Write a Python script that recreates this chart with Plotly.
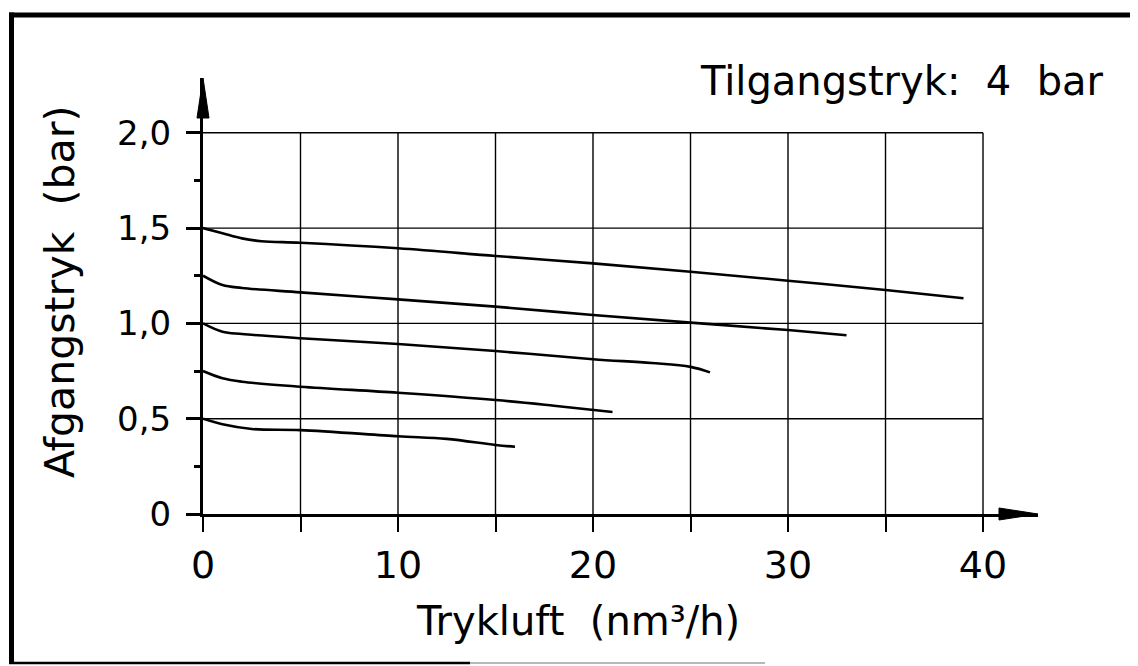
import plotly.graph_objects as go

# ---------------- data ----------------
flow_a = [0, 1, 2.5, 5, 10, 12.5, 15, 16]
press_a = [0.50, 0.471, 0.446, 0.440, 0.408, 0.394, 0.362, 0.353]

flow_b = [0, 1, 2, 5, 10, 15, 18, 21]
press_b = [0.75, 0.712, 0.694, 0.668, 0.636, 0.598, 0.568, 0.535]

flow_c = [0, 1, 2, 5, 10, 15, 20, 23, 25, 26]
press_c = [1.0, 0.956, 0.944, 0.922, 0.892, 0.855, 0.812, 0.792, 0.772, 0.743]

flow_d = [0, 1, 2, 5, 10, 15, 20, 25, 30, 33]
press_d = [1.25, 1.201, 1.186, 1.163, 1.126, 1.088, 1.044, 1.004, 0.965, 0.938]

flow_e = [0, 1, 2, 3, 5, 10, 15, 20, 25, 30, 35, 39]
press_e = [1.5, 1.473, 1.446, 1.431, 1.423, 1.394, 1.354, 1.315, 1.271, 1.224, 1.175, 1.132]

x_tick_vals = [0, 5, 10, 15, 20, 25, 30, 35, 40]
x_tick_text = ["0", "", "10", "", "20", "", "30", "", "40"]
y_tick_vals = [0, 0.5, 1.0, 1.5, 2.0]
y_tick_text = ["0", "0,5", "1,0", "1,5", "2,0"]
y_minor_vals = [0.25, 0.75, 1.25, 1.75]

title_text = "Tilgangstryk:\u00a0 4\u00a0 bar"
x_title = "Trykluft\u00a0 (nm³/h)"
y_title = "Afgangstryk\u00a0 (bar)"

# ---------------- layout geometry ----------------
OFF = 8                      # default page body margin
W, H = 1138 - OFF, 666 - OFF
ML, MR, MT, MB = 195, 100, 70, 152
X_RANGE = [0, 42.82]
Y_RANGE = [0, 2.2875]
PW = W - ML - MR
PH = H - MT - MB
FONT = "DejaVu Sans"


def px_x(page_px):
    return (page_px - OFF - ML) / PW


def px_y(page_py):
    return (H - MB - (page_py - OFF)) / PH


def dx_paper(x):
    return (x - X_RANGE[0]) / (X_RANGE[1] - X_RANGE[0])


def dy_paper(y):
    return (y - Y_RANGE[0]) / (Y_RANGE[1] - Y_RANGE[0])


fig = go.Figure()

for fx, py in [(flow_a, press_a), (flow_b, press_b), (flow_c, press_c),
               (flow_d, press_d), (flow_e, press_e)]:
    fig.add_trace(go.Scatter(x=fx, y=py, mode="lines",
                             line=dict(color="black", width=2.6, shape="spline", smoothing=1.0),
                             showlegend=False, hoverinfo="skip"))

shapes = []
# grid lines (only inside 0..40 x 0..2)
for v in y_tick_vals[1:]:
    shapes.append(dict(type="line", xref="x", yref="y", x0=0, x1=x_tick_vals[-1], y0=v, y1=v,
                       line=dict(color="black", width=1.4)))
for v in x_tick_vals[1:]:
    shapes.append(dict(type="line", xref="x", yref="y", x0=v, x1=v, y0=0, y1=y_tick_vals[-1],
                       line=dict(color="black", width=1.4)))

# arrow heads
hw_x = 6 / PW
hw_y = 6 / PH
xa_tip = dx_paper(X_RANGE[1])
xa_base = xa_tip - 39 / PW
shapes.append(dict(type="path", xref="paper", yref="paper",
                   path=f"M {xa_tip} 0 L {xa_base} {hw_y} L {xa_base} {-hw_y} Z",
                   fillcolor="black", line=dict(color="black", width=1)))
ya_tip = dy_paper(Y_RANGE[1])
ya_base = ya_tip - 40 / PH
shapes.append(dict(type="path", xref="paper", yref="paper",
                   path=f"M 0 {ya_tip} L {hw_x} {ya_base} L {-hw_x} {ya_base} Z",
                   fillcolor="black", line=dict(color="black", width=1)))

# frame (top, left, bottom)
shapes.append(dict(type="line", xref="paper", yref="paper", x0=px_x(9), x1=px_x(1150),
                   y0=px_y(15), y1=px_y(15), line=dict(color="black", width=5)))
shapes.append(dict(type="line", xref="paper", yref="paper", x0=px_x(11.5), x1=px_x(11.5),
                   y0=px_y(12.5), y1=px_y(664), line=dict(color="black", width=5)))
shapes.append(dict(type="line", xref="paper", yref="paper", x0=px_x(9), x1=px_x(470),
                   y0=px_y(663), y1=px_y(663), line=dict(color="black", width=2.5)))
shapes.append(dict(type="line", xref="paper", yref="paper", x0=px_x(470), x1=px_x(765),
                   y0=px_y(663), y1=px_y(663), line=dict(color="#a0a0a0", width=1.5)))

annotations = [
    dict(text=title_text, xref="paper", yref="paper", x=px_x(1106), y=px_y(81),
         xanchor="right", yanchor="middle", showarrow=False,
         font=dict(family=FONT, size=40, color="black")),
    dict(text=x_title, xref="paper", yref="paper", x=px_x(578), y=px_y(621),
         xanchor="center", yanchor="middle", showarrow=False,
         font=dict(family=FONT, size=40, color="black")),
    dict(text=y_title, xref="paper", yref="paper", x=px_x(60), y=px_y(292),
         xanchor="center", yanchor="middle", showarrow=False, textangle=-90,
         font=dict(family=FONT, size=41, color="black")),
]

fig.update_layout(
    width=W, height=H,
    margin=dict(l=ML, r=MR, t=MT, b=MB, pad=0),
    paper_bgcolor="white", plot_bgcolor="white",
    shapes=shapes, annotations=annotations,
    font=dict(family=FONT, color="black"),
    xaxis=dict(range=X_RANGE, showgrid=False, zeroline=False, showline=True,
               linecolor="black", linewidth=3, ticks="outside", ticklen=15,
               tickwidth=1.5, tickcolor="black", tickmode="array",
               tickvals=x_tick_vals, ticktext=x_tick_text,
               tickfont=dict(family=FONT, size=38, color="black"),
               ticklabelstandoff=0, automargin=False, fixedrange=True),
    yaxis=dict(range=Y_RANGE, showgrid=False, zeroline=False, showline=True,
               linecolor="black", linewidth=3, ticks="outside", ticklen=14,
               tickwidth=2.5, tickcolor="black", tickmode="array",
               tickvals=y_tick_vals, ticktext=y_tick_text,
               tickfont=dict(family=FONT, size=34, color="black"),
               ticklabelstandoff=8, automargin=False, fixedrange=True,
               minor=dict(ticks="outside", ticklen=6, tickwidth=2.5, tickcolor="black",
                          tickmode="array", tickvals=y_minor_vals, showgrid=False)),
)

fig.write_html("out.html")
